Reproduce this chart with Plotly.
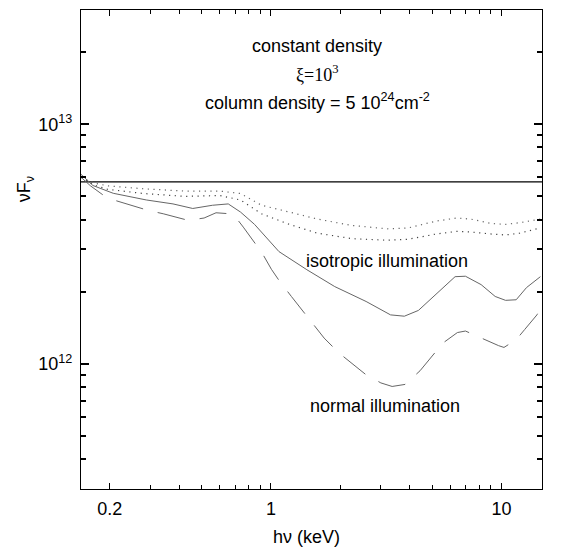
import plotly.graph_objects as go

# ---- data (x in keV, y = nuF_nu) ----
x_iso = [0.150, 0.169, 0.207, 0.288, 0.376, 0.458, 0.558, 0.653, 0.738, 0.849, 1.084, 1.432,
         1.892, 2.588, 3.304, 3.793, 4.365, 5.200, 6.295, 6.982, 8.166, 9.397, 10.42, 11.59,
         12.85, 14.76]
y_iso = [6.18e12, 5.55e12, 5.15e12, 4.83e12, 4.65e12, 4.45e12, 4.59e12, 4.65e12, 4.30e12,
         3.82e12, 2.94e12, 2.47e12, 2.10e12, 1.82e12, 1.60e12, 1.58e12, 1.67e12, 1.95e12,
         2.31e12, 2.32e12, 2.14e12, 1.91e12, 1.84e12, 1.85e12, 2.08e12, 2.31e12]

x_norm = [0.150, 0.165, 0.195, 0.226, 0.293, 0.341, 0.438, 0.513, 0.578, 0.665, 0.713, 0.759,
          0.916, 1.005, 1.084, 1.227, 1.374, 1.702, 1.972, 2.570, 2.999, 3.357, 3.819, 4.436,
          5.572, 6.442, 6.982, 8.453, 9.727, 10.26, 11.59, 12.62, 14.26, 14.76]
y_norm = [6.01e12, 5.53e12, 4.92e12, 4.71e12, 4.37e12, 4.23e12, 3.97e12, 4.06e12, 4.27e12,
          4.23e12, 4.02e12, 3.72e12, 2.90e12, 2.48e12, 2.23e12, 1.91e12, 1.66e12, 1.28e12,
          1.11e12, 9.04e11, 8.32e11, 8.04e11, 8.20e11, 9.35e11, 1.22e12, 1.35e12, 1.37e12,
          1.26e12, 1.19e12, 1.17e12, 1.26e12, 1.39e12, 1.60e12, 1.70e12]

x_dot = [0.150, 0.171, 0.196, 0.279, 0.423, 0.600, 0.738, 0.910, 1.202, 1.589, 2.249, 3.192,
         3.936, 5.200, 6.397, 7.362, 9.078, 10.42, 11.99, 14.76]
y_dot_upper = [6.01e12, 5.68e12, 5.53e12, 5.38e12, 5.26e12, 5.26e12, 5.14e12, 4.59e12, 4.30e12,
               4.02e12, 3.78e12, 3.66e12, 3.69e12, 3.94e12, 4.06e12, 4.02e12, 3.85e12, 3.82e12,
               3.88e12, 4.02e12]
y_dot_lower = [6.01e12, 5.57e12, 5.35e12, 5.14e12, 5.00e12, 5.04e12, 4.83e12, 4.23e12, 3.82e12,
               3.51e12, 3.33e12, 3.28e12, 3.31e12, 3.48e12, 3.57e12, 3.55e12, 3.48e12, 3.45e12,
               3.51e12, 3.69e12]

x_incident = [0.15, 15.0]
y_incident = [5.75e12, 5.75e12]

x_range = [0.15, 15.0]
y_range = [3e11, 3e13]

x_ticks = [0.2, 1, 10]
x_ticktext = ["0.2", "1", "10"]
x_minor = [0.3, 0.4, 0.5, 0.6, 0.7, 0.8, 0.9, 2, 3, 4, 5, 6, 7, 8, 9]
y_ticks = [1e12, 1e13]
y_ticktext = ["10<sup>12</sup>", "10<sup>13</sup>"]
y_minor = [4e11, 5e11, 6e11, 7e11, 8e11, 9e11, 2e12, 3e12, 4e12, 5e12, 6e12, 7e12, 8e12, 9e12, 2e13]

FONT = "Liberation Sans, Arial, sans-serif"
FS = 18

fig = go.Figure()
fig.add_trace(go.Scatter(x=x_incident, y=y_incident, mode="lines",
                         line=dict(color="black", width=1.4), showlegend=False))
fig.add_trace(go.Scatter(x=x_dot, y=y_dot_upper, mode="lines",
                         line=dict(color="#666666", width=1.2, dash="1.2px,4.5px"), showlegend=False))
fig.add_trace(go.Scatter(x=x_dot, y=y_dot_lower, mode="lines",
                         line=dict(color="#444444", width=1.2, dash="1.2px,4.5px"), showlegend=False))
fig.add_trace(go.Scatter(x=x_iso, y=y_iso, mode="lines",
                         line=dict(color="#666666", width=1.0), showlegend=False))
fig.add_trace(go.Scatter(x=x_norm, y=y_norm, mode="lines",
                         line=dict(color="#666666", width=1.0, dash="28px,15px"), showlegend=False))

axis_common = dict(showline=True, linecolor="black", linewidth=1.2, mirror="allticks",
                   ticks="inside", tickcolor="black", showgrid=False, zeroline=False,
                   tickfont=dict(family=FONT, size=FS, color="black"))

fig.update_xaxes(type="log", range=[-0.8239, 1.1761], tickvals=x_ticks, ticktext=x_ticktext,
                 ticklen=6, tickwidth=1, ticklabelstandoff=3,
                 minor=dict(tickvals=x_minor, ticks="inside", ticklen=4, tickcolor="black"),
                 **axis_common)
fig.update_yaxes(type="log", range=[11.4771, 13.4771], tickvals=y_ticks, ticktext=y_ticktext,
                 ticklen=8, tickwidth=1.5, ticklabelstandoff=4,
                 minor=dict(tickvals=y_minor, ticks="inside", ticklen=5, tickcolor="black"),
                 **axis_common)

ann_font = dict(family=FONT, size=FS, color="black")
annotations = [
    dict(text="constant density", x=0.513, y=0.925),
    dict(text="<span style='font-family:Liberation Serif, Times New Roman, serif'>ξ=10<sup>3</sup></span>",
         x=0.513, y=0.867),
    dict(text="column density = 5 10<sup>24</sup>cm<sup>-2</sup>", x=0.513, y=0.808),
    dict(text="isotropic illumination", x=0.664, y=0.475),
    dict(text="normal illumination", x=0.659, y=0.173),
]
for a in annotations:
    fig.add_annotation(xref="paper", yref="paper", showarrow=False, font=ann_font,
                       xanchor="center", yanchor="middle", **a)

fig.add_annotation(text="νF<sub>ν</sub>", xref="paper", yref="paper", x=-0.12, y=0.625,
                   textangle=-90, showarrow=False, font=ann_font, xanchor="center", yanchor="middle")
fig.add_annotation(text="hν (keV)", xref="paper", yref="paper", x=0.49, y=-0.1,
                   showarrow=False, font=ann_font, xanchor="center", yanchor="middle")

fig.update_layout(width=571, height=550, margin=dict(l=81, r=29, t=10, b=61),
                  paper_bgcolor="white", plot_bgcolor="white")

fig.write_html("out.html")
